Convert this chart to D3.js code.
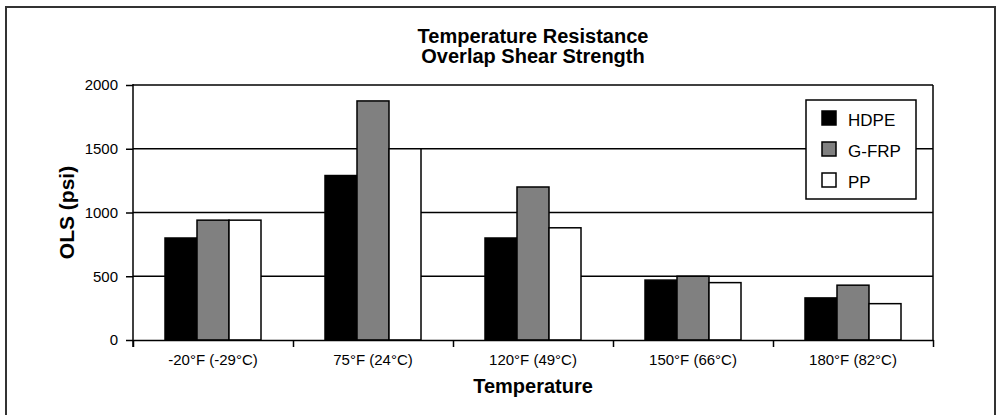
<!DOCTYPE html>
<html>
<head>
<meta charset="utf-8">
<script src="https://cdn.jsdelivr.net/npm/d3@7"></script>
<style>
  body { margin: 0; background: #fff; }
  svg { font-family: "Liberation Sans", Arial, sans-serif; display: block; }
</style>
</head>
<body>
<div id="chart-area"></div>
<script>

// Chart data
var categories = ["-20°F (-29°C)", "75°F (24°C)", "120°F (49°C)", "150°F (66°C)", "180°F (82°C)"];
var seriesNames = ["HDPE", "G-FRP", "PP"];
var hdpe = [800, 1290, 800, 470, 330];
var gfrp = [940, 1875, 1200, 500, 430];
var pp = [940, 1500, 880, 450, 285];
var yTicks = [0, 500, 1000, 1500, 2000];

var seriesValues = [hdpe, gfrp, pp];
var colors = ["#000000", "#808080", "#ffffff"];

// SVG drawing area
var width = 1000, height = 415;
var margin = {top: 85, right: 67, bottom: 75, left: 133};
var plotW = width - margin.left - margin.right,
    plotH = height - margin.top - margin.bottom;

var root = d3.select("#chart-area").append("svg")
    .attr("width", width)
    .attr("height", height);

// outer frame
root.append("rect")
    .attr("x", 6).attr("y", 7)
    .attr("width", 989).attr("height", 430)
    .attr("fill", "none")
    .attr("stroke", "#333")
    .attr("stroke-width", 2);

var svg = root.append("g")
    .attr("transform", `translate(${margin.left}, ${margin.top})`);

// Scales
var x0 = d3.scaleBand()
    .domain(categories)
    .range([0, plotW])
    .paddingInner(0.4)
    .paddingOuter(0.2);

var x1 = d3.scaleBand()
    .domain(seriesNames)
    .range([0, x0.bandwidth()]);

var xEdge = d3.scaleLinear()
    .domain([0, categories.length])
    .range([0, plotW]);

var y = d3.scaleLinear()
    .domain([0, 2000])
    .range([plotH, 0]);

// gridlines
svg.selectAll(".grid")
    .data(yTicks.slice(1))
    .join("line")
    .attr("class", "grid")
    .attr("x1", 0).attr("x2", plotW)
    .attr("y1", d => y(d)).attr("y2", d => y(d))
    .attr("stroke", "#000")
    .attr("stroke-width", 1.5);

// right border of plot
svg.append("line")
    .attr("x1", plotW).attr("x2", plotW)
    .attr("y1", 0).attr("y2", plotH)
    .attr("stroke", "#000")
    .attr("stroke-width", 1.5);

// bars
var rows = categories.map((c, i) => ({
    cat: c,
    vals: seriesNames.map((s, j) => ({name: s, value: seriesValues[j][i], color: colors[j]}))
}));

var groups = svg.selectAll(".group")
    .data(rows)
    .join("g")
    .attr("class", "group")
    .attr("transform", d => `translate(${x0(d.cat)}, 0)`);

groups.selectAll("rect")
    .data(d => d.vals)
    .join("rect")
    .attr("x", d => x1(d.name))
    .attr("y", d => y(d.value))
    .attr("width", x1.bandwidth())
    .attr("height", d => plotH - y(d.value))
    .attr("fill", d => d.color)
    .attr("stroke", "#000")
    .attr("stroke-width", 1.5);

// Axes
var yAxis = d3.axisLeft(y)
    .tickValues(yTicks)
    .tickFormat(d3.format("d"))
    .tickSize(7)
    .tickSizeOuter(0)
    .tickPadding(8);

var ya = svg.append("g")
    .attr("class", "y-axis")
    .call(yAxis);
ya.select(".domain").remove();
ya.selectAll("line").attr("stroke", "#000").attr("stroke-width", 1.5);
ya.selectAll("text").attr("font-size", 15).attr("fill", "#000");

svg.append("line")
    .attr("x1", 0).attr("x2", 0)
    .attr("y1", -1).attr("y2", plotH + 7)
    .attr("stroke", "#000")
    .attr("stroke-width", 1.5);

var xTicksAxis = d3.axisBottom(xEdge)
    .tickValues(d3.range(categories.length + 1))
    .tickFormat("")
    .tickSize(7)
    .tickSizeOuter(0);

var xa = svg.append("g")
    .attr("transform", "translate(0," + plotH + ")")
    .call(xTicksAxis);
xa.select(".domain").attr("stroke", "#000").attr("stroke-width", 1.5);
xa.selectAll("line").attr("stroke", "#000").attr("stroke-width", 1.5);

var xLabels = d3.axisBottom(x0).tickSize(0).tickPadding(14);
var xl = svg.append("g")
    .attr("transform", "translate(0," + plotH + ")")
    .call(xLabels);
xl.select(".domain").remove();
xl.selectAll("text").attr("font-size", 15).attr("fill", "#000");

// titles
var title = root.append("text")
    .attr("x", margin.left + plotW / 2)
    .attr("text-anchor", "middle")
    .attr("font-weight", "bold")
    .attr("font-size", 20);
title.append("tspan").attr("x", margin.left + plotW / 2).attr("y", 43).text("Temperature Resistance");
title.append("tspan").attr("x", margin.left + plotW / 2).attr("y", 63).text("Overlap Shear Strength");

root.append("text")
    .attr("x", margin.left + plotW / 2)
    .attr("y", 393)
    .attr("text-anchor", "middle")
    .attr("font-weight", "bold")
    .attr("font-size", 20)
    .text("Temperature");

root.append("text")
    .attr("transform", `translate(74, ${margin.top + plotH / 2}) rotate(-90)`)
    .attr("text-anchor", "middle")
    .attr("font-weight", "bold")
    .attr("font-size", 21)
    .text("OLS (psi)");

// Legend
var legend = root.append("g").attr("transform", "translate(806, 100)");
legend.append("rect")
    .attr("width", 110).attr("height", 99)
    .attr("fill", "#fff")
    .attr("stroke", "#000")
    .attr("stroke-width", 1.5);

var items = legend.selectAll(".item")
    .data(seriesNames)
    .join("g")
    .attr("class", "item")
    .attr("transform", (d, i) => `translate(16, ${11 + i * 31})`);

items.append("rect")
    .attr("width", 14).attr("height", 14)
    .attr("fill", (d, i) => colors[i])
    .attr("stroke", "#000")
    .attr("stroke-width", 1.5);

items.append("text")
    .attr("x", 26)
    .attr("y", 15)
    .attr("font-size", 17)
    .text(d => d);

</script>
</body>
</html>
